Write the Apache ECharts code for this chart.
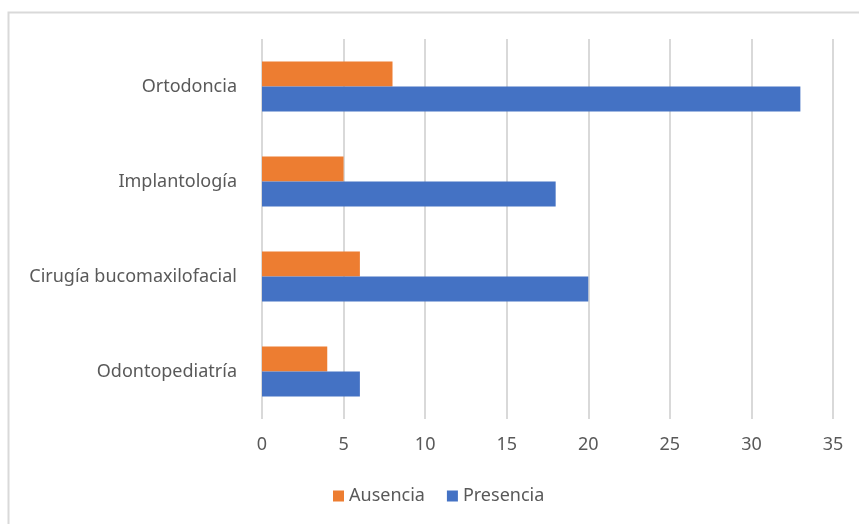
<!DOCTYPE html>
<html>
<head>
<meta charset="utf-8">
<script src="https://cdn.jsdelivr.net/npm/echarts@6/dist/echarts.min.js"></script>
<style>
  html, body { margin: 0; padding: 0; background: #fff; }
  #main { width: 859px; height: 524px; }
</style>
</head>
<body>
<div id="main"></div>
<script>
// categories bottom -> top (ECharts category yAxis starts at the bottom)
var categories = ['Odontopediatría', 'Cirugía bucomaxilofacial', 'Implantología', 'Ortodoncia'];
var ausencia = [4, 6, 5, 8];
var presencia = [6, 20, 18, 33];
var xTicks = [0, 5, 10, 15, 20, 25, 30, 35];

var chart = echarts.init(document.getElementById('main'));
var font = 'Noto Sans';
var option = {
  backgroundColor: '#fff',
  animation: false,
  graphic: [{
    type: 'rect',
    shape: { x: 8.5, y: 12.5, width: 900, height: 600 },
    style: { fill: 'none', stroke: '#d9d9d9', lineWidth: 2 },
    silent: true
  }],
  legend: {
    data: ['Ausencia', 'Presencia'],
    left: 328,
    top: 482,
    itemWidth: 11,
    itemHeight: 11,
    itemGap: 22,
    icon: 'rect',
    textStyle: { color: '#595959', fontSize: 18, fontFamily: font }
  },
  grid: { left: 262, right: 26, top: 39, bottom: 105 },
  xAxis: {
    type: 'value',
    min: xTicks[0],
    max: xTicks[xTicks.length - 1],
    interval: 5,
    axisLine: { show: false },
    axisTick: { show: false },
    axisLabel: { color: '#595959', fontSize: 18, fontFamily: font, margin: 17 },
    splitLine: { lineStyle: { color: '#d9d9d9', width: 2 } }
  },
  yAxis: {
    type: 'category',
    data: categories,
    axisLine: { show: false },
    axisTick: { show: false },
    axisLabel: { color: '#595959', fontSize: 18, fontFamily: font, margin: 25 }
  },
  series: [{
    name: 'Ausencia',
    type: 'bar',
    data: ausencia,
    barWidth: 25,
    barGap: '0%',
    itemStyle: { color: '#ed7d31' }
  }, {
    name: 'Presencia',
    type: 'bar',
    data: presencia,
    barWidth: 25,
    barGap: '0%',
    itemStyle: { color: '#4472c4' }
  }]
};
chart.setOption(option);
</script>
</body>
</html>
